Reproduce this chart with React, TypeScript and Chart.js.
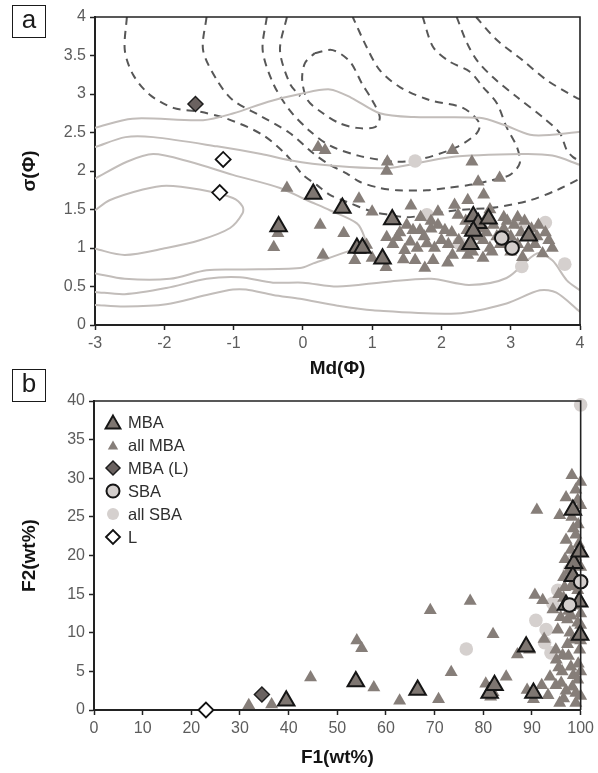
import React, { useEffect, useRef } from 'react';
import { Chart, registerables } from 'chart.js';

Chart.register(...registerables);

type P = [number, number];

// ---------------- Panel a data ----------------
const TOP_X_TICKS = [-3, -2, -1, 0, 1, 2, 3, 4];
const TOP_Y_TICKS = [0, 0.5, 1, 1.5, 2, 2.5, 3, 3.5, 4];

const TOP_ALL_MBA: P[] = [
  [-0.36, 1.19], [-0.42, 1.01], [-0.23, 1.78], [0.22, 2.31], [0.32, 2.27], [0.25, 1.3], [0.29, 0.91],
  [0.59, 1.19], [0.75, 0.84], [0.81, 1.64], [0.92, 1.04], [1.0, 1.47], [1.0, 0.87], [1.2, 0.75],
  [1.21, 2.0], [1.22, 2.12], [1.21, 1.14], [1.36, 1.14], [1.47, 0.97], [1.56, 1.55], [1.59, 1.23],
  [1.69, 1.23], [1.62, 0.84], [1.76, 0.74], [1.79, 1.06], [1.88, 0.84], [1.95, 1.47], [1.95, 1.3],
  [2.05, 1.23], [2.09, 0.81], [2.16, 2.27], [2.16, 0.91], [2.19, 1.56], [2.24, 1.43], [2.37, 1.23],
  [2.38, 1.62], [2.38, 0.91], [2.44, 2.12], [2.53, 1.86], [2.6, 0.87], [2.61, 1.69], [2.73, 0.95],
  [2.84, 1.91], [3.17, 0.88], [3.38, 1.15], [3.46, 0.93],
  [1.4, 1.2], [1.5, 1.3], [1.55, 1.08], [1.65, 1.0], [1.75, 1.15], [1.85, 1.25], [1.9, 1.0],
  [2.0, 1.1], [2.1, 1.05], [2.15, 1.2], [2.25, 1.1], [2.3, 1.0], [2.5, 1.15], [2.55, 1.25],
  [2.6, 1.1], [2.65, 1.2], [2.7, 1.0], [2.75, 1.3], [2.8, 1.15], [2.85, 1.05], [2.9, 1.25],
  [2.95, 1.35], [3.0, 1.15], [3.05, 1.3], [3.1, 1.05], [3.15, 1.2], [3.2, 1.35], [3.25, 1.0],
  [3.3, 1.25], [3.35, 1.05], [3.4, 1.3], [3.5, 1.2], [3.55, 1.1], [2.65, 1.4], [2.9, 1.4],
  [3.1, 1.4], [2.45, 0.95], [3.0, 0.95], [1.3, 1.05], [1.45, 0.85], [2.7, 1.5], [2.35, 1.35],
  [1.7, 1.4], [1.85, 1.35], [3.6, 1.0],
];
const TOP_MBA: P[] = [
  [-0.35, 1.28], [0.15, 1.7], [0.57, 1.52], [0.78, 1.0], [0.86, 1.0], [1.15, 0.86], [1.29, 1.37],
  [2.42, 1.05], [2.46, 1.41], [2.53, 1.32], [2.46, 1.22], [2.68, 1.38], [3.26, 1.16],
];
const TOP_MBA_L: P[] = [[-1.55, 2.87]];
const TOP_SBA: P[] = [[2.87, 1.13], [3.02, 1.0]];
const TOP_ALL_SBA: P[] = [
  [1.62, 2.13], [1.79, 1.43], [2.26, 1.06], [3.16, 0.76], [3.5, 1.33], [3.78, 0.79], [3.15, 1.32],
];
const TOP_L: P[] = [[-1.15, 2.15], [-1.2, 1.72]];

// Solid (light) contours
const SOLID_1: P[] = [[-3, 2.56], [-2.46, 2.68], [-1.44, 2.66], [-1, 2.75], [-0.5, 2.9], [-0.04, 3.0], [0.39, 3.06], [0.7, 2.95], [1.11, 2.75], [1.6, 2.7], [2.55, 2.69], [2.9, 2.6], [3.28, 2.47], [3.6, 2.47], [4, 2.51]];
const SOLID_2: P[] = [[-3, 2.31], [-2.56, 2.44], [-2.16, 2.44], [-1.24, 2.32], [-0.6, 2.22], [-0.19, 2.14], [0.4, 2.07], [1.26, 2.04], [2.12, 2.18], [3.17, 2.22], [3.6, 2.2], [4, 2.08]];
const SOLID_3: P[] = [[-3, 1.9], [-2.54, 2.12], [-2.16, 2.22], [-1.63, 2.12], [-1.01, 1.95], [-0.33, 1.78], [0.06, 1.62], [0.39, 1.49], [0.78, 1.32], [0.89, 1.14], [0.89, 1.04], [0.63, 0.95], [0.15, 0.8], [-0.04, 0.74], [-0.9, 0.72], [-1.39, 0.71], [-1.92, 0.6], [-2.57, 0.6], [-3, 0.67]];
const SOLID_4: P[] = [[-3, 1.49], [-2.79, 1.62], [-2.31, 1.76], [-1.97, 1.81], [-1.49, 1.76], [-1.01, 1.65], [-0.87, 1.54], [-0.87, 1.45], [-1.05, 1.26], [-1.49, 1.1], [-1.97, 1.0], [-2.57, 0.91], [-3, 0.99]];
const SOLID_5: P[] = [[-3, 0.43], [-2.57, 0.4], [-1.97, 0.48], [-1.39, 0.6], [-0.91, 0.62], [-0.43, 0.55], [0, 0.55], [0.5, 0.5], [1.2, 0.56], [1.85, 0.6], [2.4, 0.52], [2.94, 0.61], [3.38, 0.93], [3.6, 0.84], [3.81, 0.58], [4, 0.45]];
const SOLID_6: P[] = [[-3, 0.26], [-2.57, 0.24], [-1.97, 0.27], [-1.39, 0.39], [-1.01, 0.46], [-0.82, 0.46], [-0.43, 0.39], [-0.04, 0.34], [0.5, 0.25], [1.01, 0.19], [2.22, 0.15], [2.94, 0.28], [3.42, 0.45], [3.66, 0.42], [4, 0.17]];

// Dashed (dark) contours
const DASH_A: P[] = [[-2.54, 4], [-2.57, 3.57], [-2.45, 3.25], [-2.21, 2.99], [-1.87, 2.82], [-1.49, 2.77], [-1.1, 2.68], [-0.6, 2.48], [-0.25, 2.22], [0, 1.95], [0.2, 1.82], [0.39, 1.69], [0.63, 1.6], [1.01, 1.47], [1.26, 1.43], [1.5, 1.4], [1.79, 1.43], [2.22, 1.49], [2.8, 1.53], [3.28, 1.62], [3.66, 1.75], [4, 1.9]];
const DASH_B: P[] = [[-1.39, 4], [-1.44, 3.57], [-1.24, 3.18], [-1.01, 2.92], [-0.62, 2.72], [-0.2, 2.5], [0.15, 2.23], [0.39, 2.08], [0.63, 1.97], [0.82, 1.86], [1.11, 1.78], [1.36, 1.75], [1.79, 1.75], [2.08, 1.78], [2.41, 1.82], [2.73, 1.88], [2.99, 1.95], [3.13, 2.1], [3.09, 2.31], [2.94, 2.57], [2.8, 2.88], [2.6, 3.09], [2.41, 3.29], [2.12, 3.42], [1.88, 3.61], [1.73, 4]];
const DASH_C: P[] = [[-0.52, 4], [-0.58, 3.57], [-0.43, 3.14], [-0.2, 2.8], [0.1, 2.52], [0.39, 2.33], [0.8, 2.2], [1.36, 2.12], [1.73, 2.16], [2.22, 2.31], [2.51, 2.49], [2.55, 2.62], [2.31, 2.82], [1.83, 2.92], [1.4, 3.09], [1.11, 3.31], [0.92, 3.61], [0.72, 4]];
const DASH_D: P[] = [[-0.23, 4], [-0.33, 3.57], [-0.19, 3.14], [-0.04, 2.97]];
const DASH_E: P[] = [[0.17, 3.53], [0.43, 3.57], [0.68, 3.42], [0.85, 3.14], [1.0, 2.92], [1.11, 2.7], [1.04, 2.57], [0.78, 2.56], [0.53, 2.62], [0.29, 2.75], [0.07, 2.92], [-0.01, 3.18], [0.03, 3.4], [0.17, 3.53]];
const DASH_G: P[] = [[2.5, 4], [2.8, 3.7], [3.17, 3.44], [3.52, 3.18], [3.95, 2.95], [4, 2.93]];
const DASH_H: P[] = [[2.22, 4], [2.37, 3.66], [2.51, 3.44], [2.74, 3.22], [3.09, 2.96], [3.46, 2.7], [3.71, 2.49], [3.81, 2.27], [3.9, 2.18], [4, 2.13]];

const SOLID_CONTOURS = [SOLID_1, SOLID_2, SOLID_3, SOLID_4, SOLID_5, SOLID_6];
const DASHED_CONTOURS = [DASH_A, DASH_B, DASH_C, DASH_D, DASH_E, DASH_G, DASH_H];

// ---------------- Panel b data ----------------
const BOT_X_TICKS = [0, 10, 20, 30, 40, 50, 60, 70, 80, 90, 100];
const BOT_Y_TICKS = [0, 5, 10, 15, 20, 25, 30, 35, 40];
const LEGEND_LABELS = ['MBA', 'all MBA', 'MBA (L)', 'SBA', 'all SBA', 'L'];

const BOT_ALL_MBA: P[] = [
  [31.8, 0.6], [36.5, 0.7], [44.5, 4.2], [54, 9], [55, 8], [57.5, 2.9], [62.8, 1.2], [69.1, 12.9],
  [70.8, 1.4], [73.4, 4.9], [77.3, 14.1], [80.5, 3.4], [81.5, 1.7], [82, 9.8], [84.7, 4.3], [87, 7.2],
  [89, 2.6], [90.6, 14.9], [91, 25.9], [92.2, 14.2], [92.5, 9.2], [93.3, 1.9], [93.7, 4.3], [94.9, 3.2],
  [95.7, 0.9], [95, 6.5], [94.9, 7.8], [95.3, 10.4], [95.9, 12], [96.3, 7.1], [95.7, 25.2], [98.2, 30.4],
  [100, 29.5], [99.4, 27.2], [99, 2.2], [99.4, 3.9], [98, 5.6], [99.8, 7.8], [98.4, 9.1], [97.3, 11.7],
  [99.4, 11.3], [96.7, 15.9], [99.4, 15.5], [98, 20.7], [97, 22], [98.5, 23.5], [99.5, 24], [99, 22.7],
  [97.5, 18], [100, 18.5], [99.2, 17], [96.5, 17.2], [98, 16], [100, 12.5], [97.5, 12.8], [96.5, 14.5],
  [100, 26.5], [97, 27.5], [99, 28.5], [99.5, 6], [97.5, 7], [96.2, 5], [98.5, 4.5], [100, 1.8],
  [97, 2.5], [99, 0.9], [98, 12.2], [100, 11], [95.5, 5.5], [96, 3.5], [97.8, 10], [99, 13.5],
  [96.8, 19.5], [99.6, 21.5], [98.2, 25], [100, 5], [97.3, 8.5], [99, 19.8], [95.5, 15], [94.3, 13],
  [92, 3.2], [96.5, 1.5], [98.3, 3], [100, 9], [90.3, 1.4], [82, 2.3], [89.5, 7.8],
];
const BOT_MBA: P[] = [
  [39.5, 1.2], [53.8, 3.7], [66.5, 2.6], [81.3, 2.2], [82.3, 3.2], [88.8, 8.2], [90.3, 2.2],
  [98.4, 25.9], [98.6, 19.0], [98.4, 17.3], [97, 13.6], [99.7, 14], [99.8, 20.5], [99.9, 9.7],
];
const BOT_MBA_L: P[] = [[34.5, 2]];
const BOT_SBA: P[] = [[97.7, 13.6], [100, 16.6]];
const BOT_ALL_SBA: P[] = [
  [100, 39.5], [76.5, 7.9], [90.8, 11.6], [92.9, 10.4], [92.6, 8.7], [95.3, 15.5], [94.3, 13.8],
  [98.4, 19.4], [97.7, 18.1], [93.9, 7.4],
];
const BOT_L: P[] = [[23, 0]];

// ---------------- styles ----------------
type Sty = { shape: 'triangle' | 'rectRot' | 'circle'; r: number; fill: string; stroke: string; bw: number };
const ST_MBA: Sty = { shape: 'triangle', r: 9.5, fill: '#7e7671', stroke: '#151515', bw: 2 };
const ST_ALL_MBA: Sty = { shape: 'triangle', r: 7.5, fill: '#867e79', stroke: '#867e79', bw: 0 };
const ST_MBA_L: Sty = { shape: 'rectRot', r: 7.5, fill: '#6a6260', stroke: '#1e1e1e', bw: 1.5 };
const ST_SBA: Sty = { shape: 'circle', r: 6.8, fill: '#d3cecc', stroke: '#151515', bw: 2 };
const ST_ALL_SBA: Sty = { shape: 'circle', r: 6.8, fill: '#d5d0ce', stroke: '#d5d0ce', bw: 0 };
const ST_L: Sty = { shape: 'rectRot', r: 7.5, fill: '#ffffff', stroke: '#111111', bw: 1.8 };
const LEGEND_STYLES: Sty[] = [
  { ...ST_MBA, r: 8.5 }, { ...ST_ALL_MBA, r: 6 }, { ...ST_MBA_L, r: 7 },
  { ...ST_SBA, r: 6.5 }, { ...ST_ALL_SBA, r: 6 }, { ...ST_L, r: 7 },
];

const FONT = "'Liberation Sans', Arial, sans-serif";

function pts(arr: P[]) {
  return arr.map(([x, y]) => ({ x, y }));
}

function scatterSet(label: string, arr: P[], s: Sty, order: number) {
  return {
    type: 'scatter' as const,
    label,
    data: pts(arr),
    pointStyle: s.shape,
    pointRadius: s.r,
    pointBackgroundColor: s.fill,
    pointBorderColor: s.stroke,
    pointBorderWidth: s.bw,
    showLine: false,
    order,
    clip: false as any,
  };
}

function lineSet(arr: P[], color: string, dash: number[], width: number) {
  return {
    type: 'scatter' as const,
    label: '',
    data: pts(arr),
    showLine: true,
    pointRadius: 0,
    borderColor: color,
    borderWidth: width,
    borderDash: dash,
    tension: 0.3,
    fill: false,
    order: 20,
  };
}

function axis(ticks: number[], title: string, isX: boolean, size: number, titlePad: number) {
  return {
    type: 'linear' as const,
    position: isX ? 'bottom' : 'left',
    min: ticks[0],
    max: ticks[ticks.length - 1],
    afterBuildTicks: (s: any) => {
      s.ticks = ticks.map((v) => ({ value: v }));
    },
    afterFit: (s: any) => {
      if (isX) s.height = size;
      else s.width = size;
    },
    grid: {
      display: true,
      drawOnChartArea: false,
      drawTicks: true,
      tickLength: 5,
      tickColor: '#222',
      tickWidth: 1.5,
      color: '#222',
    },
    border: { display: true, color: '#222', width: 2 },
    ticks: {
      color: '#5c5c5c',
      font: { family: FONT, size: 16 },
      padding: 4,
      maxRotation: 0,
      autoSkip: false,
      callback: (v: any) => String(v),
    },
    title: {
      display: true,
      text: title,
      color: '#141414',
      font: { family: FONT, size: 19, weight: 'bold' as const },
      padding: isX ? { top: 0, bottom: titlePad } : { top: titlePad, bottom: 0 },
    },
  };
}

const framePlugin = {
  id: 'frame',
  afterDraw(chart: any) {
    const { ctx, chartArea: a } = chart;
    ctx.save();
    ctx.strokeStyle = '#222';
    ctx.lineWidth = 1.6;
    ctx.beginPath();
    ctx.moveTo(a.left, a.top);
    ctx.lineTo(a.right, a.top);
    ctx.lineTo(a.right, a.bottom);
    ctx.stroke();
    ctx.restore();
  },
};

function drawMarker(ctx: CanvasRenderingContext2D, s: Sty, x: number, y: number) {
  const r = s.r;
  ctx.beginPath();
  if (s.shape === 'triangle') {
    ctx.moveTo(x, y - r);
    ctx.lineTo(x + r * 0.866, y + r * 0.5);
    ctx.lineTo(x - r * 0.866, y + r * 0.5);
    ctx.closePath();
  } else if (s.shape === 'rectRot') {
    ctx.moveTo(x - r, y);
    ctx.lineTo(x, y - r);
    ctx.lineTo(x + r, y);
    ctx.lineTo(x, y + r);
    ctx.closePath();
  } else {
    ctx.arc(x, y, r, 0, Math.PI * 2);
  }
  ctx.fillStyle = s.fill;
  ctx.fill();
  if (s.bw > 0) {
    ctx.lineWidth = s.bw;
    ctx.strokeStyle = s.stroke;
    ctx.stroke();
  }
}

const legendPlugin = {
  id: 'panelLegend',
  afterDraw(chart: any) {
    const { ctx, chartArea: a } = chart;
    ctx.save();
    ctx.font = `16.5px ${FONT}`;
    ctx.textBaseline = 'middle';
    ctx.textAlign = 'left';
    LEGEND_LABELS.forEach((label, i) => {
      const y = a.top + 21 + i * 23;
      const s = LEGEND_STYLES[i];
      const dy = s.shape === 'triangle' ? s.r * 0.25 : 0;
      drawMarker(ctx, s, a.left + 19, y + dy);
      ctx.fillStyle = '#2e2e2e';
      ctx.fillText(label, a.left + 34, y + 1);
    });
    ctx.restore();
  },
};

function TopChart() {
  const ref = useRef<HTMLCanvasElement>(null);
  useEffect(() => {
    if (!ref.current) return;
    const datasets: any[] = [
      ...SOLID_CONTOURS.map((c) => lineSet(c, '#c2bdba', [], 2)),
      ...DASHED_CONTOURS.map((c) => lineSet(c, '#575757', [8, 6], 2)),
      scatterSet('all SBA', TOP_ALL_SBA, ST_ALL_SBA, 8),
      scatterSet('all MBA', TOP_ALL_MBA, ST_ALL_MBA, 7),
      scatterSet('MBA', TOP_MBA, ST_MBA, 5),
      scatterSet('SBA', TOP_SBA, ST_SBA, 4),
      scatterSet('MBA (L)', TOP_MBA_L, ST_MBA_L, 3),
      scatterSet('L', TOP_L, ST_L, 3),
    ];
    const chart = new Chart(ref.current, {
      type: 'scatter',
      data: { datasets },
      options: {
        animation: false,
        responsive: false,
        maintainAspectRatio: false,
        events: [],
        layout: { padding: { left: 0, right: 18, top: 17, bottom: 0 } },
        plugins: { legend: { display: false }, tooltip: { enabled: false } },
        scales: {
          x: axis(TOP_X_TICKS, 'Md(Φ)', true, 61, 6) as any,
          y: axis(TOP_Y_TICKS, 'σ(Φ)', false, 95, 18) as any,
        },
      },
      plugins: [framePlugin],
    });
    return () => chart.destroy();
  }, []);
  return <canvas ref={ref} width={598} height={386} style={{ display: 'block', width: 598, height: 386 }} />;
}

function BottomChart() {
  const ref = useRef<HTMLCanvasElement>(null);
  useEffect(() => {
    if (!ref.current) return;
    const datasets: any[] = [
      scatterSet('all SBA', BOT_ALL_SBA, ST_ALL_SBA, 8),
      scatterSet('all MBA', BOT_ALL_MBA, ST_ALL_MBA, 7),
      scatterSet('MBA', BOT_MBA, ST_MBA, 5),
      scatterSet('SBA', BOT_SBA, ST_SBA, 4),
      scatterSet('MBA (L)', BOT_MBA_L, ST_MBA_L, 3),
      scatterSet('L', BOT_L, ST_L, 3),
    ];
    const chart = new Chart(ref.current, {
      type: 'scatter',
      data: { datasets },
      options: {
        animation: false,
        responsive: false,
        maintainAspectRatio: false,
        events: [],
        layout: { padding: { left: 0, right: 15, top: 15, bottom: 0 } },
        plugins: { legend: { display: false }, tooltip: { enabled: false } },
        scales: {
          x: axis(BOT_X_TICKS, 'F1(wt%)', true, 63, 4) as any,
          y: axis(BOT_Y_TICKS, 'F2(wt%)', false, 94, 18) as any,
        },
      },
      plugins: [framePlugin, legendPlugin],
    });
    return () => chart.destroy();
  }, []);
  return <canvas ref={ref} width={598} height={387} style={{ display: 'block', width: 598, height: 387 }} />;
}

function PanelLabel({ text, top }: { text: string; top: number }) {
  return (
    <div
      style={{
        position: 'absolute',
        left: 12,
        top,
        width: 34,
        height: 33,
        border: '1.6px solid #1a1a1a',
        boxSizing: 'border-box',
        fontFamily: FONT,
        fontSize: 26,
        lineHeight: '27px',
        textAlign: 'center',
        color: '#1a1a1a',
        background: '#fff',
      }}
    >
      {text}
    </div>
  );
}

export default function App() {
  return (
    <div style={{ position: 'absolute', left: 0, top: 0, width: 598, height: 773, background: '#fff' }}>
      <TopChart />
      <BottomChart />
      <PanelLabel text="a" top={5} />
      <PanelLabel text="b" top={369} />
    </div>
  );
}
